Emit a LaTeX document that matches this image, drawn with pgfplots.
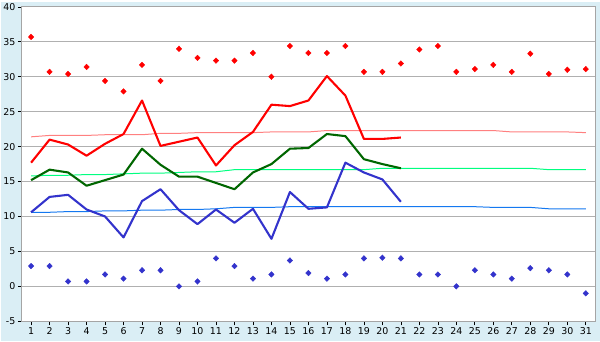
\documentclass[border=0pt]{standalone}
\usepackage{pgfplots}
\pgfplotsset{compat=1.18}
\usepackage{pgfplotstable}
\usepackage{fontspec}
\setmainfont{DejaVu Sans}
\definecolor{bgblue}{RGB}{218,238,245}
\definecolor{gridgray}{RGB}{176,176,176}
\definecolor{framegray}{RGB}{165,165,165}
\definecolor{maxred}{RGB}{255,0,0}
\definecolor{meangreen}{RGB}{0,102,0}
\definecolor{minblue}{RGB}{51,51,204}
\definecolor{nred}{RGB}{255,128,128}
\definecolor{ngreen}{RGB}{0,255,128}
\definecolor{nblue}{RGB}{20,120,240}

\pgfplotstableread{
day max mean min
1 17.7 15.2 10.6
2 21.0 16.7 12.8
3 20.3 16.3 13.1
4 18.7 14.4 11.0
5 20.4 15.2 10.0
6 21.8 16.0 7.0
7 26.6 19.7 12.2
8 20.1 17.4 13.9
9 20.7 15.7 10.9
10 21.3 15.7 8.9
11 17.3 14.8 11.0
12 20.2 13.9 9.1
13 22.1 16.3 11.1
14 26.0 17.5 6.8
15 25.8 19.7 13.5
16 26.6 19.8 11.1
17 30.1 21.8 11.3
18 27.3 21.5 17.7
19 21.1 18.2 16.3
20 21.1 17.5 15.3
21 21.3 16.9 12.1
}\obs

\pgfplotstableread{
day nmax nmean nmin rhigh rlow
1 21.4 15.8 10.6 35.7 2.9
2 21.6 15.9 10.6 30.7 2.9
3 21.6 15.9 10.7 30.4 0.7
4 21.6 16.0 10.7 31.4 0.7
5 21.7 16.0 10.8 29.4 1.7
6 21.7 16.1 10.8 27.9 1.1
7 21.7 16.2 10.9 31.7 2.3
8 21.9 16.2 10.9 29.4 2.3
9 21.9 16.3 11.0 34.0 0.0
10 22.0 16.4 11.0 32.7 0.7
11 22.0 16.4 11.1 32.3 4.0
12 22.0 16.7 11.3 32.3 2.9
13 22.0 16.7 11.3 33.4 1.1
14 22.1 16.7 11.3 30.0 1.7
15 22.1 16.7 11.4 34.4 3.7
16 22.1 16.7 11.4 33.4 1.9
17 22.3 16.7 11.4 33.4 1.1
18 22.3 16.7 11.4 34.4 1.7
19 22.3 16.7 11.4 30.7 4.0
20 22.3 16.9 11.4 30.7 4.1
21 22.3 16.9 11.4 31.9 4.0
22 22.3 16.9 11.4 33.9 1.7
23 22.3 16.9 11.4 34.4 1.7
24 22.3 16.9 11.4 30.7 0.0
25 22.3 16.9 11.4 31.1 2.3
26 22.3 16.9 11.3 31.7 1.7
27 22.1 16.9 11.3 30.7 1.1
28 22.1 16.9 11.3 33.3 2.6
29 22.1 16.7 11.1 30.4 2.3
30 22.1 16.7 11.1 31.0 1.7
31 22.0 16.7 11.1 31.1 -1.0
}\norm

\begin{document}
\begin{tikzpicture}
\fill[bgblue] (-20.7bp,-20bp) rectangle (579.3bp,320bp);
\begin{axis}[
  at={(0,0)}, anchor=south west,
  scale only axis,
  width=574.3bp, height=315bp,
  xmin=0.5, xmax=31.5,
  ymin=-5, ymax=40,
  xtick={1,...,31},
  ytick={-5,0,...,40},
  axis background/.style={fill=white},
  axis line style={framegray, line width=0.9pt},
  ymajorgrids,
  major grid style={gridgray, line width=0.9pt},
  tick style={black, line width=0.7pt},
  tick align=outside,
  major tick length=4bp,
  xtick pos=bottom, ytick pos=left,
  ticklabel style={font=\fontsize{9.5}{11}\selectfont},
  /pgf/number format/assume math mode=true,
  xticklabel style={yshift=1bp},
  yticklabel style={xshift=1bp},
  clip=false,
]
\addplot[nred, line width=1pt, no markers] table[x=day, y=nmax] {\norm};
\addplot[ngreen, line width=1pt, no markers] table[x=day, y=nmean] {\norm};
\addplot[nblue, line width=1pt, no markers] table[x=day, y=nmin] {\norm};
\addplot[maxred, line width=2.1pt, no markers, line join=round] table[x=day, y=max] {\obs};
\addplot[meangreen, line width=2.1pt, no markers, line join=round] table[x=day, y=mean] {\obs};
\addplot[minblue, line width=2.1pt, no markers, line join=round] table[x=day, y=min] {\obs};
\addplot[only marks, mark=diamond*, mark size=2.8pt, maxred, mark options={fill=maxred, draw=maxred, xscale=1.3}] table[x=day, y=rhigh] {\norm};
\addplot[only marks, mark=diamond*, mark size=2.8pt, minblue, mark options={fill=minblue, draw=minblue, xscale=1.3}] table[x=day, y=rlow] {\norm};
\end{axis}
\end{tikzpicture}
\end{document}
